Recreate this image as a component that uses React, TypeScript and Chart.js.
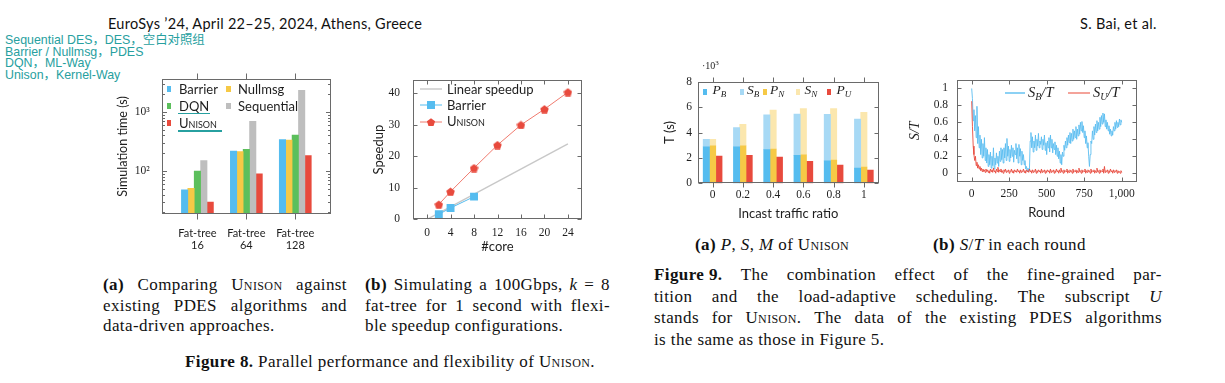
import React, { useEffect, useRef } from 'react';
import { Chart, registerables } from 'chart.js';

Chart.register(...registerables);

// ---------------- DATA ----------------
// Figure 8(a): simulation time (s), log scale
const fig8aCategories = [['Fat-tree', '16'], ['Fat-tree', '64'], ['Fat-tree', '128']];
const fig8aBarrier = [48, 218, 339];
const fig8aNullmsg = [51, 213, 335];
const fig8aDQN = [100, 232, 404];
const fig8aSequential = [150, 692, 2320];
const fig8aUnison = [30, 90, 183];
const fig8aYTicks = [100, 1000];
const fig8aYTickLabels = ['10²', '10³'];
const fig8aYMinorTicks = [20, 30, 40, 50, 60, 70, 80, 90, 200, 300, 400, 500, 600, 700, 800, 900, 2000, 3000];

// Figure 8(b): speedup vs #core
const fig8bLinearCores = [0, 24];
const fig8bLinear = [0, 24];
const fig8bBarrierCores = [2, 4, 8];
const fig8bBarrier = [1.6, 3.6, 7.2];
const fig8bUnisonCores = [2, 4, 8, 12, 16, 20, 24];
const fig8bUnison = [4.7, 8.8, 16.3, 23.6, 30.0, 35.0, 40.4];
const fig8bXTicks = [0, 4, 8, 12, 16, 20, 24];
const fig8bYTicks = [0, 10, 20, 30, 40];

// Figure 9(a): T (x10^3 s) vs incast traffic ratio
const fig9aRatios = [0, 0.2, 0.4, 0.6, 0.8, 1];
const fig9aPB = [2.88, 2.88, 2.65, 2.2, 1.76, 1.2];
const fig9aSB = [0.58, 1.5, 2.75, 3.26, 3.67, 3.85];
const fig9aPN = [2.96, 2.96, 2.7, 2.25, 1.83, 1.28];
const fig9aSN = [0.5, 1.68, 3.07, 3.63, 4.05, 4.31];
const fig9aPU = [2.15, 2.2, 2.07, 1.73, 1.44, 1.05];
const fig9aYTicks = [0, 2, 4, 6, 8];

// Figure 9(b): S/T in each round (one value every 5 rounds)
const fig9bRoundStep = 5;
const fig9bSB = [
  1.0, 0.88, 0.62, 0.75, 0.5, 0.68, 0.42, 0.79, 0.35, 0.55,
  0.3, 0.45, 0.22, 0.4, 0.18, 0.35, 0.2, 0.42, 0.15, 0.3,
  0.12, 0.28, 0.08, 0.22, 0.1, 0.25, 0.06, 0.2, 0.09, 0.3,
  0.05, 0.18, 0.1, 0.24, 0.12, 0.2, 0.08, 0.26, 0.14, 0.3,
  0.16, 0.28, 0.12, 0.3, 0.18, 0.35, 0.15, 0.41, 0.2, 0.32,
  0.14, 0.28, 0.18, 0.33, 0.2, 0.3, 0.13, 0.27, 0.22, 0.35,
  0.17, 0.3, 0.12, 0.34, 0.2, 0.29, 0.1, 0.26, 0.15, 0.22,
  0.1, 0.15, 0.05, 0.08, 0.03, 0.06, 0.02, 0.05, 0.38, 0.48,
  0.3, 0.43, 0.25, 0.38, 0.3, 0.45, 0.27, 0.4, 0.32, 0.47,
  0.3, 0.38, 0.34, 0.43, 0.28, 0.4, 0.33, 0.45, 0.27, 0.36,
  0.22, 0.38, 0.3, 0.42, 0.25, 0.45, 0.3, 0.4, 0.24, 0.35,
  0.28, 0.37, 0.22, 0.33, 0.2, 0.3, 0.17, 0.26, 0.12, 0.22,
  0.1, 0.25, 0.2, 0.33, 0.27, 0.38, 0.3, 0.42, 0.33, 0.45,
  0.36, 0.48, 0.35, 0.47, 0.38, 0.52, 0.4, 0.5, 0.42, 0.55,
  0.4, 0.52, 0.44, 0.57, 0.46, 0.6, 0.5, 0.61, 0.48, 0.56,
  0.42, 0.5, 0.35, 0.44, 0.3, 0.36, 0.2, 0.08, 0.22, 0.38,
  0.35, 0.5, 0.4, 0.55, 0.45, 0.58, 0.48, 0.62, 0.5, 0.6,
  0.52, 0.66, 0.55, 0.68, 0.58, 0.71, 0.6, 0.7, 0.55, 0.63,
  0.52, 0.6, 0.5, 0.56, 0.46, 0.52, 0.44, 0.5, 0.45, 0.55,
  0.5, 0.6, 0.52, 0.62, 0.54, 0.6, 0.55, 0.64, 0.57, 0.63,
  0.6,
];
const fig9bSU = [
  0.85, 0.55, 0.32, 0.22, 0.15, 0.2, 0.09, 0.13, 0.06, 0.1,
  0.05, 0.08, 0.03, 0.06, 0.02, 0.05, 0.02, 0.04, 0.01, 0.05,
  0.02, 0.04, 0.01, 0.03, 0.0, 0.05, 0.02, 0.04, 0.01, 0.06,
  0.02, 0.03, 0.0, 0.05, 0.02, 0.07, 0.01, 0.04, 0.02, 0.05,
  0.01, 0.03, 0.0, 0.04, 0.02, 0.05, 0.01, 0.03, 0.02, 0.04,
  0.0, 0.03, 0.02, 0.05, 0.01, 0.03, 0.0, 0.04, 0.02, 0.03,
  0.01, 0.05, 0.02, 0.03, 0.0, 0.04, 0.01, 0.03, 0.02, 0.05,
  0.01, 0.03, 0.0, 0.04, 0.02, 0.03, 0.01, 0.05, 0.02, 0.03,
  0.0, 0.04, 0.01, 0.03, 0.02, 0.05, 0.0, 0.03, 0.01, 0.04,
  0.02, 0.03, 0.0, 0.05, 0.01, 0.03, 0.02, 0.04, 0.0, 0.03,
  0.01, 0.04, 0.02, 0.03, 0.0, 0.05, 0.01, 0.03, 0.02, 0.04,
  0.0, 0.03, 0.01, 0.05, 0.02, 0.03, 0.0, 0.04, 0.01, 0.06,
  0.02, 0.03, 0.0, 0.04, 0.01, 0.03, 0.02, 0.05, 0.0, 0.03,
  0.01, 0.04, 0.02, 0.03, 0.0, 0.05, 0.01, 0.03, 0.02, 0.04,
  0.0, 0.03, 0.01, 0.06, 0.02, 0.03, 0.0, 0.04, 0.01, 0.03,
  0.02, 0.05, 0.0, 0.03, 0.01, 0.04, 0.02, 0.03, 0.0, 0.05,
  0.01, 0.03, 0.02, 0.04, 0.0, 0.03, 0.01, 0.06, 0.02, 0.03,
  0.0, 0.04, 0.01, 0.03, 0.02, 0.05, 0.0, 0.08, 0.01, 0.03,
  0.02, 0.04, 0.0, 0.03, 0.01, 0.05, 0.02, 0.03, 0.0, 0.04,
  0.01, 0.03, 0.02, 0.04, 0.0, 0.03, 0.01, 0.02, 0.0, 0.03,
  0.01,
];
const fig9bXTicks = [0, 250, 500, 750, 1000];
const fig9bYTicks = [0, 0.2, 0.4, 0.6, 0.8, 1];

// ---------------- STYLE ----------------
const SANS = 'Lato, "Open Sans", sans-serif';
const SERIF = '"Liberation Serif", "DejaVu Serif", serif';
const INK = '#1e1e1e';
const FRAME = '#6a6a6a';
const TEAL = '#27a0a0';
const C = {
  blue: '#55bcef',
  yellow: '#f6c946',
  green: '#5cbf5c',
  gray: '#bebebe',
  red: '#e84a3d',
  lightBlue: '#a7d9f5',
  lightYellow: '#fbe7ae',
  redLine: '#f07b6f',
};

const frameTicksPlugin = {
  id: 'frameTicks',
  afterDraw(chart: any, _args: any, opts: any) {
    const { ctx, chartArea: a, scales } = chart;
    const L = Math.round(a.left) + 0.5;
    const R = Math.round(a.right) - 0.5;
    const T = Math.round(a.top) + 0.5;
    const B = Math.round(a.bottom) - 0.5;
    ctx.save();
    ctx.strokeStyle = opts.color || FRAME;
    ctx.lineWidth = 1;
    ctx.beginPath();
    const xs = opts.x;
    if (xs) {
      const d = xs.out ? -xs.len : xs.len;
      for (const v of xs.values) {
        const p = Math.round(scales.x.getPixelForValue(v)) + 0.5;
        ctx.moveTo(p, B); ctx.lineTo(p, B - d);
        ctx.moveTo(p, T); ctx.lineTo(p, T + d);
      }
    }
    const ys = opts.y;
    if (ys) {
      const drawY = (vals: number[], len: number) => {
        for (const v of vals) {
          const p = Math.round(scales.y.getPixelForValue(v)) + 0.5;
          ctx.moveTo(L, p); ctx.lineTo(L + len, p);
          ctx.moveTo(R, p); ctx.lineTo(R - len, p);
        }
      };
      drawY(ys.values, ys.len);
      if (ys.minor) drawY(ys.minor, ys.minorLen);
    }
    ctx.stroke();
    ctx.strokeRect(L, T, R - L, B - T);
    ctx.restore();
  },
};

const noGrid = { display: false, drawTicks: false };
const noBorder = { display: false };
const tickFont = { family: SERIF, size: 11.5 };

function setTicks(values: number[]) {
  return (s: any) => {
    s.ticks = values.map((v) => ({ value: v }));
  };
}

function makePentagon(size: number, color: string) {
  const c = document.createElement('canvas');
  c.width = size;
  c.height = size;
  const g = c.getContext('2d')!;
  g.fillStyle = color;
  g.beginPath();
  const r = size / 2;
  for (let k = 0; k < 5; k++) {
    const ang = -Math.PI / 2 + (k * 2 * Math.PI) / 5;
    const px = r + r * Math.cos(ang);
    const py = r + 0.6 + r * Math.sin(ang);
    if (k === 0) g.moveTo(px, py);
    else g.lineTo(px, py);
  }
  g.closePath();
  g.fill();
  return c;
}

const baseOptions = (padding: any) => ({
  responsive: false,
  animation: false,
  events: [],
  layout: { padding },
});

function makeFig8a() {
  const ds = (label: string, values: number[], color: string) => ({
    label,
    data: values.map((y, i) => ({ x: i, y })),
    backgroundColor: color,
    borderWidth: 0,
    barThickness: 6.4,
  });
  return {
    type: 'bar',
    data: {
      datasets: [
        ds('Barrier', fig8aBarrier, C.blue),
        ds('Nullmsg', fig8aNullmsg, C.yellow),
        ds('DQN', fig8aDQN, C.green),
        ds('Sequential', fig8aSequential, C.gray),
        ds('Unison', fig8aUnison, C.red),
      ],
    },
    options: {
      ...baseOptions({ top: 15.5, right: 14, bottom: 0, left: 0 }),
      plugins: {
        legend: { display: false },
        tooltip: { enabled: false },
        frameTicks: {
          color: FRAME,
          x: { values: [0, 1, 2], len: 6, out: true },
          y: { values: fig8aYTicks, len: 4.5, minor: fig8aYMinorTicks, minorLen: 2.5 },
        },
      },
      scales: {
        x: {
          type: 'linear',
          offset: false,
          min: -0.73,
          max: 2.73,
          grid: noGrid,
          border: noBorder,
          afterBuildTicks: setTicks([0, 1, 2]),
          afterFit: (s: any) => { s.height = 48; },
          ticks: {
            padding: 13,
            color: INK,
            autoSkip: false,
            maxRotation: 0,
            font: { family: SANS, size: 11, lineHeight: 1.1 },
            callback: (v: number) => fig8aCategories[Math.round(v)],
          },
        },
        y: {
          type: 'logarithmic',
          min: 18.8,
          max: 3606,
          grid: noGrid,
          border: noBorder,
          afterBuildTicks: setTicks(fig8aYTicks),
          afterFit: (s: any) => { s.width = 61.7; },
          ticks: {
            padding: 12,
            color: INK,
            autoSkip: false,
            font: tickFont,
            callback: (v: number) => fig8aYTickLabels[fig8aYTicks.indexOf(v)],
          },
          title: {
            display: true,
            text: 'Simulation time (s)',
            color: INK,
            font: { family: SANS, size: 12.5 },
            padding: { top: 15, bottom: 0 },
          },
        },
      },
    },
    plugins: [frameTicksPlugin],
  };
}

function makeFig8b() {
  const pent = makePentagon(9, C.red);
  return {
    type: 'line',
    data: {
      datasets: [
        {
          label: 'Unison',
          data: fig8bUnisonCores.map((x, i) => ({ x, y: fig8bUnison[i] })),
          borderColor: C.redLine,
          borderWidth: 1,
          pointStyle: pent,
          pointRadius: 4.5,
          order: 1,
        },
        {
          label: 'Barrier',
          data: fig8bBarrierCores.map((x, i) => ({ x, y: fig8bBarrier[i] })),
          borderColor: C.blue,
          borderWidth: 1,
          pointStyle: 'rect',
          pointRadius: 5.6,
          pointBackgroundColor: C.blue,
          pointBorderWidth: 0,
          order: 2,
        },
        {
          label: 'Linear speedup',
          data: fig8bLinearCores.map((x, i) => ({ x, y: fig8bLinear[i] })),
          borderColor: '#c8c8c8',
          borderWidth: 1.4,
          pointRadius: 0,
          order: 3,
        },
      ],
    },
    options: {
      ...baseOptions({ top: 15, right: 18, bottom: 0, left: 0 }),
      plugins: {
        legend: { display: false },
        tooltip: { enabled: false },
        frameTicks: {
          color: FRAME,
          x: { values: fig8bXTicks, len: 4, out: false },
          y: { values: fig8bYTicks, len: 4 },
        },
      },
      scales: {
        x: {
          type: 'linear',
          min: -2.4,
          max: 26.4,
          grid: noGrid,
          border: noBorder,
          afterBuildTicks: setTicks(fig8bXTicks),
          afterFit: (s: any) => { s.height = 42.7; },
          ticks: { padding: 7, color: INK, font: tickFont, autoSkip: false, maxRotation: 0 },
          title: {
            display: true,
            text: '#core',
            color: INK,
            font: { family: SANS, size: 13 },
            padding: { top: 0, bottom: 7.5 },
          },
        },
        y: {
          type: 'linear',
          min: 0,
          max: 44.3,
          grid: noGrid,
          border: noBorder,
          afterBuildTicks: setTicks(fig8bYTicks),
          afterFit: (s: any) => { s.width = 68; },
          ticks: { padding: 13, color: INK, font: tickFont, autoSkip: false },
          title: {
            display: true,
            text: 'Speedup',
            color: INK,
            font: { family: SANS, size: 13 },
            padding: { top: 26, bottom: 0 },
          },
        },
      },
    },
    plugins: [frameTicksPlugin],
  };
}

function makeFig9a() {
  const ds = (label: string, values: number[], color: string, stack: string) => ({
    label,
    data: fig9aRatios.map((x, i) => ({ x, y: values[i] })),
    backgroundColor: color,
    borderWidth: 0,
    barThickness: 6.3,
    stack,
  });
  return {
    type: 'bar',
    data: {
      datasets: [
        ds('P_B', fig9aPB, C.blue, 'B'),
        ds('S_B', fig9aSB, C.lightBlue, 'B'),
        ds('P_N', fig9aPN, C.yellow, 'N'),
        ds('S_N', fig9aSN, C.lightYellow, 'N'),
        ds('P_U', fig9aPU, C.red, 'U'),
      ],
    },
    options: {
      ...baseOptions({ top: 21.7, right: 16, bottom: 0, left: 0 }),
      plugins: {
        legend: { display: false },
        tooltip: { enabled: false },
        frameTicks: {
          color: FRAME,
          x: { values: fig9aRatios, len: 5, out: true },
          y: { values: fig9aYTicks, len: 4 },
        },
      },
      scales: {
        x: {
          type: 'linear',
          offset: false,
          min: -0.1,
          max: 1.1,
          grid: noGrid,
          border: noBorder,
          afterBuildTicks: setTicks(fig9aRatios),
          afterFit: (s: any) => { s.height = 41.7; },
          ticks: { padding: 5, color: INK, font: tickFont, autoSkip: false, maxRotation: 0, callback: (v: number) => String(v) },
          title: {
            display: true,
            text: 'Incast traffic ratio',
            color: INK,
            font: { family: SANS, size: 13 },
            padding: { top: 0, bottom: 3.7 },
          },
        },
        y: {
          type: 'linear',
          min: 0,
          max: 8,
          stacked: true,
          grid: noGrid,
          border: noBorder,
          afterBuildTicks: setTicks(fig9aYTicks),
          afterFit: (s: any) => { s.width = 42.5; },
          ticks: { padding: 5.5, color: INK, font: tickFont, autoSkip: false },
          title: {
            display: true,
            text: 'T (s)',
            color: INK,
            font: { family: SANS, size: 13 },
            padding: { top: 7.2, bottom: 0 },
          },
        },
      },
    },
    plugins: [frameTicksPlugin],
  };
}

function makeFig9b() {
  const rounds = fig9bSB.map((_, i) => i * fig9bRoundStep);
  return {
    type: 'line',
    data: {
      labels: rounds,
      datasets: [
        { label: 'S_U/T', data: fig9bSU, borderColor: C.red, borderWidth: 0.9, pointRadius: 0, order: 1 },
        { label: 'S_B/T', data: fig9bSB, borderColor: '#5bbdf0', borderWidth: 0.9, pointRadius: 0, order: 2 },
      ],
    },
    options: {
      ...baseOptions({ top: 20, right: 13.3, bottom: 0, left: 0 }),
      plugins: {
        legend: { display: false },
        tooltip: { enabled: false },
        frameTicks: {
          color: FRAME,
          x: { values: fig9bXTicks, len: 4, out: false },
          y: { values: fig9bYTicks, len: 4 },
        },
      },
      scales: {
        x: {
          type: 'linear',
          min: -100,
          max: 1100,
          grid: noGrid,
          border: noBorder,
          afterBuildTicks: setTicks(fig9bXTicks),
          afterFit: (s: any) => { s.height = 43.3; },
          ticks: {
            padding: 5,
            color: INK,
            font: tickFont,
            autoSkip: false,
            maxRotation: 0,
            callback: (v: number) => v.toLocaleString('en-US'),
          },
          title: {
            display: true,
            text: 'Round',
            color: INK,
            font: { family: SANS, size: 13 },
            padding: { top: 0, bottom: 4.7 },
          },
        },
        y: {
          type: 'linear',
          min: -0.1,
          max: 1.1,
          grid: noGrid,
          border: noBorder,
          afterBuildTicks: setTicks(fig9bYTicks),
          afterFit: (s: any) => { s.width = 56.7; },
          ticks: { padding: 8.7, color: INK, font: tickFont, autoSkip: false, callback: (v: number) => String(v) },
          title: {
            display: true,
            text: 'S/T',
            color: INK,
            font: { family: SERIF, size: 14, style: 'italic' },
            padding: { top: 7, bottom: 0 },
          },
        },
      },
    },
    plugins: [frameTicksPlugin],
  };
}

// ---------------- COMPONENTS ----------------
function ChartBox({ left, top, width, height, make }: { left: number; top: number; width: number; height: number; make: () => any }) {
  const ref = useRef<HTMLCanvasElement>(null);
  useEffect(() => {
    const chart = new Chart(ref.current as HTMLCanvasElement, make());
    return () => chart.destroy();
  }, []);
  return <canvas ref={ref} width={width} height={height} style={{ position: 'absolute', left, top, width, height }} />;
}

const abs = (x: number, y: number, extra: React.CSSProperties = {}): React.CSSProperties => ({
  position: 'absolute',
  left: x,
  top: y,
  whiteSpace: 'nowrap',
  ...extra,
});

const SC = ({ children }: { children: React.ReactNode }) => <span style={{ fontVariant: 'small-caps' }}>{children}</span>;

const CAP: React.CSSProperties = {
  fontFamily: SERIF,
  fontSize: 17,
  lineHeight: '20px',
  letterSpacing: '0.4px',
  color: '#111',
};

function JLine({ x, y, w, words }: { x: number; y: number; w: number; words: React.ReactNode[] }) {
  return (
    <div style={abs(x, y, { ...CAP, width: w, display: 'flex', justifyContent: 'space-between' })}>
      {words.map((wd, i) => (
        <span key={i}>{wd}</span>
      ))}
    </div>
  );
}

function Line({ x, y, children }: { x: number; y: number; children: React.ReactNode }) {
  return <div style={abs(x, y, CAP)}>{children}</div>;
}

function Sw({ x, y, color, w = 4.5, h = 6 }: { x: number; y: number; color: string; w?: number; h?: number }) {
  return <div style={abs(x, y, { width: w, height: h, background: color })} />;
}

const LEG: React.CSSProperties = { fontFamily: SANS, fontSize: 13, lineHeight: '14px', color: INK };

function LineSample({ x, y, color, marker, width = 22 }: { x: number; y: number; color: string; marker?: 'rect' | 'pent'; width?: number }) {
  const cx = width / 2;
  return (
    <svg style={abs(x, y - 6, { overflow: 'visible' })} width={width} height={12}>
      <line x1={0} y1={6} x2={width} y2={6} stroke={color} strokeWidth={marker ? 1 : 1.4} />
      {marker === 'rect' && <rect x={cx - 4} y={2} width={8} height={8} fill={C.blue} />}
      {marker === 'pent' && (
        <polygon
          points={[0, 1, 2, 3, 4]
            .map((k) => {
              const a = -Math.PI / 2 + (k * 2 * Math.PI) / 5;
              return `${cx + 4.3 * Math.cos(a)},${6.5 + 4.3 * Math.sin(a)}`;
            })
            .join(' ')}
          fill={C.red}
        />
      )}
    </svg>
  );
}

const MATH: React.CSSProperties = { fontFamily: SERIF, fontStyle: 'italic', color: INK };
const Sub = ({ children, size = 9 }: { children: React.ReactNode; size?: number }) => (
  <span style={{ fontSize: size, verticalAlign: -3 }}>{children}</span>
);

const HEAD: React.CSSProperties = { fontFamily: SANS, fontSize: 14.5, lineHeight: '16px', letterSpacing: '0.3px', color: '#111' };

export default function App() {
  return (
    <div style={{ position: 'absolute', left: 0, top: 0, width: 1225, height: 383, background: '#fff', overflow: 'hidden' }}>
      {/* page header */}
      <div style={abs(108, 16.3, HEAD)}>EuroSys ’24, April 22–25, 2024, Athens, Greece</div>
      <div style={abs(1080, 16.3, HEAD)}>S. Bai, et al.</div>

      {/* teal annotations */}
      {['Sequential DES，DES，空白对照组', 'Barrier / Nullmsg，PDES', 'DQN，ML-Way', 'Unison，Kernel-Way'].map((t, i) => (
        <div
          key={i}
          style={abs(5, 33.9 + i * 11.7, {
            fontFamily: '"Liberation Sans", Arial, "Noto Sans CJK SC", sans-serif',
            fontSize: 12.4,
            lineHeight: '12px',
            color: TEAL,
          })}
        >
          {t}
        </div>
      ))}

      {/* charts */}
      <ChartBox left={100} top={60} width={245} height={202} make={makeFig8a} />
      <ChartBox left={345} top={60} width={255} height={202} make={makeFig8b} />
      <ChartBox left={655} top={60} width={240} height={165} make={makeFig9a} />
      <ChartBox left={900} top={60} width={250} height={165} make={makeFig9b} />

      {/* Fig 8a legend */}
      <Sw x={166.5} y={86} color={C.blue} />
      <div style={abs(179, 82, LEG)}>Barrier</div>
      <Sw x={226} y={86} color={C.yellow} />
      <div style={abs(238, 82, LEG)}>Nullmsg</div>
      <Sw x={166.5} y={102.5} color={C.green} />
      <div style={abs(179, 98.5, LEG)}>DQN</div>
      <Sw x={226} y={102.5} color={C.gray} />
      <div style={abs(238, 98.5, LEG)}>Sequential</div>
      <Sw x={166.5} y={120} color={C.red} />
      <div style={abs(179, 116, LEG)}>
        <SC>Unison</SC>
      </div>
      <div style={abs(178.3, 112.5, { width: 32, height: 1.6, background: TEAL })} />
      <div style={abs(178.3, 130, { width: 43.5, height: 1.6, background: TEAL })} />

      {/* Fig 8b legend */}
      <LineSample x={420} y={89} color="#c8c8c8" />
      <div style={abs(447, 81.7, LEG)}>Linear speedup</div>
      <LineSample x={420} y={105} color={C.blue} marker="rect" />
      <div style={abs(447, 97.7, LEG)}>Barrier</div>
      <LineSample x={420} y={121.7} color={C.redLine} marker="pent" />
      <div style={abs(447, 114.4, LEG)}>
        <SC>Unison</SC>
      </div>

      {/* Fig 9a legend and exponent */}
      <div style={abs(702, 57, { fontFamily: SERIF, fontSize: 10, lineHeight: '12px', color: INK })}>
        ·10<sup style={{ fontSize: 7 }}>3</sup>
      </div>
      {[
        { x: 703.3, tx: 712.5, c: C.blue, s: 'P', b: 'B' },
        { x: 740, tx: 747, c: C.lightBlue, s: 'S', b: 'B' },
        { x: 763, tx: 770, c: C.yellow, s: 'P', b: 'N' },
        { x: 796, tx: 804.5, c: C.lightYellow, s: 'S', b: 'N' },
        { x: 827.3, tx: 836.5, c: C.red, s: 'P', b: 'U' },
      ].map((it, i) => (
        <React.Fragment key={i}>
          <Sw x={it.x} y={89} w={4} h={5.5} color={it.c} />
          <div style={abs(it.tx, 83.4, { ...MATH, fontSize: 13.5, lineHeight: '14px' })}>
            {it.s}
            <Sub>{it.b}</Sub>
          </div>
        </React.Fragment>
      ))}

      {/* Fig 9b legend */}
      <LineSample x={1005} y={93.3} color="#5bbdf0" width={20} />
      <div style={abs(1028, 84.4, { ...MATH, fontSize: 14.5, lineHeight: '16px' })}>
        S<Sub size={10}>B</Sub>/T
      </div>
      <LineSample x={1068} y={93.3} color={C.redLine} width={22} />
      <div style={abs(1093, 84.4, { ...MATH, fontSize: 14.5, lineHeight: '16px' })}>
        S<Sub size={10}>U</Sub>/T
      </div>

      {/* Figure 8 captions */}
      <JLine x={103} y={275} w={244} words={[<b>(a)</b>, 'Comparing', <SC>Unison</SC>, 'against']} />
      <JLine x={103} y={295.5} w={244} words={['existing', 'PDES', 'algorithms', 'and']} />
      <Line x={103} y={316}>data-driven approaches.</Line>
      <JLine x={365} y={275} w={245} words={[<b>(b)</b>, 'Simulating', 'a', '100Gbps,', <i>k</i>, '=', '8']} />
      <JLine x={365} y={295.5} w={245} words={['fat-tree', 'for', '1', 'second', 'with', 'flexi-']} />
      <Line x={365} y={316}>ble speedup configurations.</Line>
      <Line x={185} y={351.5}>
        <b>Figure 8.</b> Parallel performance and flexibility of <SC>Unison</SC>.
      </Line>

      {/* Figure 9 captions */}
      <Line x={695} y={235.3}>
        <b>(a)</b> <i>P</i>, <i>S</i>, <i>M</i> of <SC>Unison</SC>
      </Line>
      <Line x={933} y={235.3}>
        <b>(b)</b> <i>S</i>/<i>T</i> in each round
      </Line>
      <JLine
        x={654}
        y={265}
        w={508}
        words={[<b>Figure 9.</b>, 'The', 'combination', 'effect', 'of', 'the', 'fine-grained', 'par-']}
      />
      <JLine
        x={654}
        y={286.5}
        w={508}
        words={['tition', 'and', 'the', 'load-adaptive', 'scheduling.', 'The', 'subscript', <i>U</i>]}
      />
      <JLine
        x={654}
        y={308}
        w={508}
        words={['stands', 'for', <span><SC>Unison</SC>.</span>, 'The', 'data', 'of', 'the', 'existing', 'PDES', 'algorithms']}
      />
      <Line x={654} y={329.5}>is the same as those in Figure 5.</Line>
    </div>
  );
}
